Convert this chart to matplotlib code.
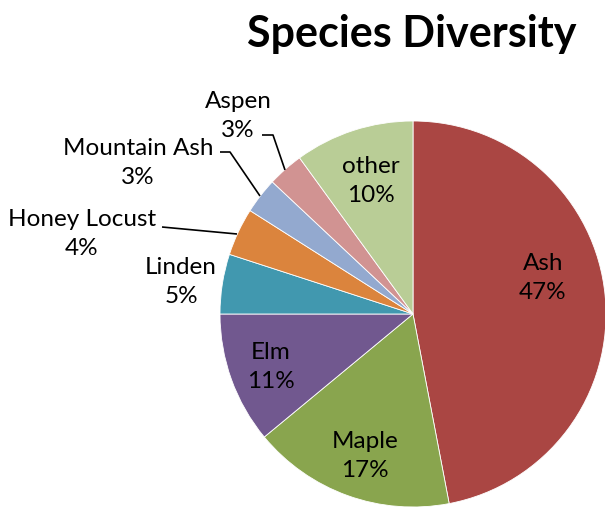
import matplotlib
matplotlib.use("Agg")
import matplotlib.pyplot as plt

species = ["Ash", "Maple", "Elm", "Linden", "Honey Locust", "Mountain Ash", "Aspen", "other"]
shares = [47, 17, 11, 5, 4, 3, 3, 10]
colors = ["#AA4643", "#89A54E", "#71588F", "#4198AF", "#DB843D", "#93A9CF", "#D19392", "#B9CD96"]

plt.rcParams['font.family'] = ['Lato', 'DejaVu Sans']

W, H = 605, 508
fig = plt.figure(figsize=(W / 100, H / 100), dpi=100)
ax = fig.add_axes([0, 0, 1, 1])

cx, cy, r = 413, H - 314, 193
wedges, _ = ax.pie(shares, colors=colors, startangle=90, counterclock=False,
                   center=(cx, cy), radius=r, frame=True,
                   wedgeprops=dict(linewidth=0.6, edgecolor='white'))
ax.set_xlim(0, W)
ax.set_ylim(0, H)
ax.set_aspect('equal')
ax.axis('off')

fs = 17.5
lsp = 1.48


def lab(i):
    return f"{species[i]}\n{shares[i]}%"


# labels inside the larger slices
inside = {0: (543, 278), 1: (365, 456), 2: (271, 367), 7: (371, 181)}
for i, (x, y) in inside.items():
    ax.text(x, H - y, lab(i), ha='center', va='center', fontsize=fs,
            linespacing=lsp, color='black')

# labels outside the small slices, with leader lines
outside = {3: (181, 282), 4: (82, 234), 5: (138, 163), 6: (238, 116)}
for i, (x, y) in outside.items():
    ax.text(x, H - y, lab(i), ha='center', va='center', fontsize=fs,
            linespacing=lsp, color='black')

leaders = {
    4: [(162, 227), (237, 234)],
    5: [(220, 152), (230, 152), (260, 196)],
    6: [(262, 135), (273, 135), (285, 170)],
}
for pts in leaders.values():
    xs = [p[0] for p in pts]
    ys = [H - p[1] for p in pts]
    ax.plot(xs, ys, color='black', lw=1.2, solid_capstyle='butt')

ax.text(412, H - 34, "Species Diversity", ha='center', va='center',
        fontsize=31, fontweight='bold', color='black')

fig.savefig("out.png", dpi=100)
